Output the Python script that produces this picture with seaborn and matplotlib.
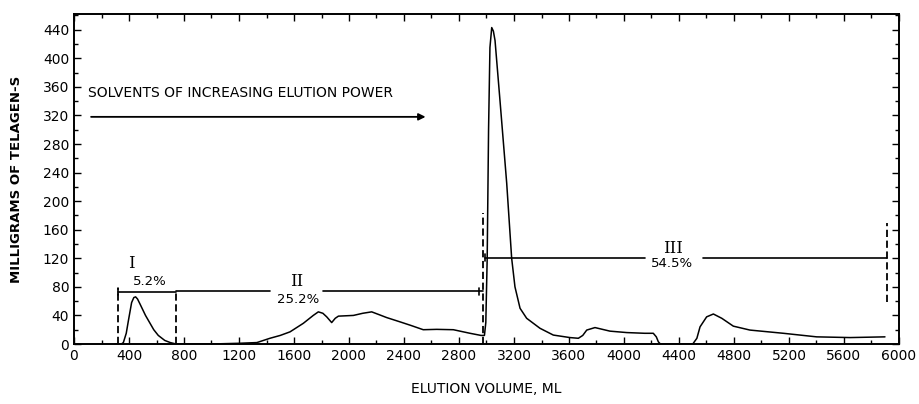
import numpy as np
import pandas as pd
import matplotlib
matplotlib.use("Agg")
import matplotlib.pyplot as plt
import seaborn as sns

# ---- data ----
elution_ml = [300, 345, 359, 380, 395, 419, 435, 448, 462, 480, 520, 553, 580, 613, 660, 700, 742,
              1000, 1200, 1330, 1425, 1500, 1571, 1668, 1740, 1777, 1810, 1838, 1874, 1900, 1923,
              2032, 2100, 2165, 2220, 2274, 2371, 2450, 2540, 2638, 2759, 2880, 2960, 2985,
              2995, 3005, 3015, 3025, 3038, 3050, 3062, 3098, 3147, 3183, 3207, 3244, 3292,
              3389, 3486, 3607, 3668, 3700, 3729, 3789, 3898, 4020, 4150, 4213, 4235, 4250,
              4265, 4500, 4530, 4553, 4601, 4650, 4711, 4795, 4916, 5159, 5401, 5644, 5898]
telagen_mg = [0, 0, 2, 15, 32, 58, 65, 66, 63, 56, 40, 29, 20, 12, 5, 2, 0,
              0, 1, 2, 8, 12, 17, 29, 40, 45, 43, 38, 30, 36, 39,
              40, 43, 45, 41, 37, 31, 26, 20, 20.5, 20, 15, 12, 12,
              30, 120, 300, 415, 443, 438, 425, 341, 225, 120, 80, 50, 36,
              22, 12.5, 9, 8, 12, 19.5, 23, 18, 16, 15, 15, 10, 3,
              0, 0, 8, 24, 38, 42, 36, 25, 19.5, 15, 10, 9, 10]

fraction_names = ["I", "II", "III"]
fraction_pct = ["5.2%", "25.2%", "54.5%"]
fraction_bounds = [320, 742, 2972, 5915]

x_ticks = [0, 400, 800, 1200, 1600, 2000, 2400, 2800, 3200, 3600, 4000, 4400, 4800, 5200, 5600, 6000]
y_ticks = [0, 40, 80, 120, 160, 200, 240, 280, 320, 360, 400, 440]

df = pd.DataFrame({"ml": elution_ml, "mg": telagen_mg})

sns.set_style("ticks")
plt.rcParams["font.family"] = ["DejaVu Sans"]
plt.rcParams["text.color"] = "black"
plt.rcParams["axes.labelcolor"] = "black"
plt.rcParams["xtick.color"] = "black"
plt.rcParams["ytick.color"] = "black"

fig = plt.figure(figsize=(9.19, 4.04), dpi=100)
ax = fig.add_axes([74 / 919, 60 / 404, 825 / 919, 330 / 404])

sns.lineplot(data=df, x="ml", y="mg", ax=ax, color="black", linewidth=1.1, sort=False)

ax.set_xlim(0, 6000)
ax.set_ylim(0, 462)
ax.set_xticks(x_ticks)
ax.set_yticks(y_ticks)
ax.set_xticks(np.arange(0, 6001, 200), minor=True)
ax.set_yticks(np.arange(0, 461, 20), minor=True)
ax.tick_params(axis="both", which="both", direction="in", top=True, right=True,
               labelsize=10, colors="black", labelcolor="black", width=1)
ax.tick_params(which="major", length=5)
ax.tick_params(which="minor", length=3)
for s in ax.spines.values():
    s.set_linewidth(1.4)
    s.set_color("black")

ax.set_xlabel("ELUTION VOLUME, ML", fontsize=10, labelpad=14, color="black")
ax.set_ylabel("MILLIGRAMS OF TELAGEN-S", fontsize=9.5, fontweight="bold", labelpad=14, color="black")

# solvent arrow
ax.text(104, 352, "SOLVENTS OF INCREASING ELUTION POWER", fontsize=10, va="center", ha="left",
        color="black")
ax.annotate("", xy=(2577, 318), xytext=(104, 318),
            arrowprops=dict(arrowstyle="-|>", color="black", lw=1.3, mutation_scale=10))

# fraction brackets
dash = dict(color="black", lw=1.3, ls=(0, (4, 2)))
b0, b1, b2, b3 = fraction_bounds
ax.plot([b0, b0], [0, 78], **dash)
ax.plot([b1, b1], [0, 74], **dash)
ax.plot([b2, b2], [0, 183], **dash)
ax.plot([b3, b3], [59, 169], **dash)

# I
ax.plot([b0, b1], [73, 73], color="black", lw=1.2)
ax.plot([b0, b0], [68, 78], color="black", lw=1.2)
ax.text(419, 113, fraction_names[0], family="DejaVu Serif", fontsize=12, ha="center", va="center",
        color="black")
ax.text(553, 87, fraction_pct[0], fontsize=9.5, ha="center", va="center", color="black")
# II
ax.plot([b1, 1425], [74, 74], color="black", lw=1.2)
ax.plot([1811, b2], [74, 74], color="black", lw=1.2)
ax.plot([b2 - 30, b2 - 30], [69, 79], color="black", lw=1.2)
ax.text(1620, 87, fraction_names[1], family="DejaVu Serif", fontsize=12, ha="center", va="center",
        color="black")
ax.text(1631, 62, fraction_pct[1], fontsize=9.5, ha="center", va="center", color="black")
# III
ax.plot([2989, 4153], [121, 121], color="black", lw=1.2)
ax.plot([4575, b3], [121, 121], color="black", lw=1.2)
ax.plot([2989, 2989], [116, 126], color="black", lw=1.2)
ax.text(4357, 134, fraction_names[2], family="DejaVu Serif", fontsize=12, ha="center", va="center",
        color="black")
ax.text(4347, 113, fraction_pct[2], fontsize=9.5, ha="center", va="center", color="black")

fig.savefig("out.png", dpi=100)
